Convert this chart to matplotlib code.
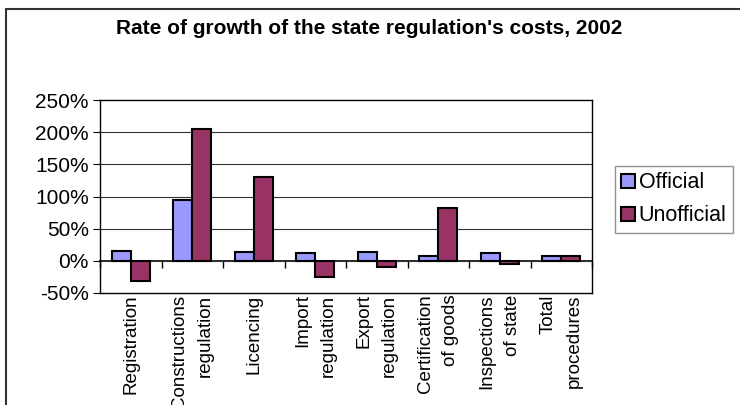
import numpy as np
import matplotlib
matplotlib.use("Agg")
import matplotlib.pyplot as plt
from matplotlib.patches import Rectangle
from matplotlib.ticker import FuncFormatter

plt.rcParams['font.family'] = ['Liberation Sans', 'DejaVu Sans']

categories = ["Registration", "Constructions\nregulation", "Licencing",
              "Import\nregulation", "Export\nregulation", "Certification\nof goods",
              "Inspections\nof state", "Total\nprocedures"]
official = [16, 95, 14, 12, 14, 7, 12, 7]
unofficial = [-31, 205, 130, -25, -9, 82, -5, 7]
yticks = [-50, 0, 50, 100, 150, 200, 250]

fig = plt.figure(figsize=(7.4, 4.05), dpi=100)
ax = fig.add_axes([100 / 740, 112 / 405, 492 / 740, 193 / 405])

x = np.arange(len(categories))
w = 0.31
ax.bar(x - w / 2, official, w, color='#9999FF', edgecolor='black', linewidth=1.5,
       label='Official', zorder=3)
ax.bar(x + w / 2, unofficial, w, color='#993366', edgecolor='black', linewidth=1.5,
       label='Unofficial', zorder=3)

ax.set_xlim(-0.5, len(categories) - 0.5)
ax.set_ylim(-50, 250)
ax.set_yticks(yticks)
ax.yaxis.set_major_formatter(FuncFormatter(lambda v, p: f"{v:.0f}%"))
ax.tick_params(axis='y', direction='out', length=5, labelsize=15, pad=3)
for v in yticks[1:-1]:
    ax.axhline(v, color='#333333', linewidth=0.8, zorder=1)

# category labels at bottom of plot area
ax.set_xticks(x)
ax.set_xticklabels(categories, rotation=90, fontsize=13.5, va='top',
                   ha='center', multialignment='right', linespacing=1.65)
ax.tick_params(axis='x', length=0, pad=1)

# category axis crossing at 0%
sec = ax.secondary_xaxis(50 / 300)
sec.set_xticks(np.arange(len(categories) + 1) - 0.5)
sec.set_xticklabels([])
sec.tick_params(axis='x', direction='out', length=5, width=1)
sec.spines['bottom'].set_linewidth(1.2)

for s in ax.spines.values():
    s.set_linewidth(1.0)
    s.set_color('black')

fig.text(369 / 740, 1 - 29 / 405, "Rate of growth of the state regulation's costs, 2002",
         fontsize=15, fontweight='bold', ha='center', va='center')

leg = fig.legend(loc='upper left', bbox_to_anchor=(615 / 740, 1 - 166 / 405),
                 fontsize=15.5, frameon=True, fancybox=False, handlelength=0.65,
                 handleheight=0.65, handletextpad=0.15, borderpad=0.3,
                 labelspacing=0.55, borderaxespad=0)
leg.get_frame().set_edgecolor('#777777')
leg.get_frame().set_linewidth(1.0)

fig.patches.append(Rectangle((6 / 740, -0.2), 2, 1.2 - 9 / 405, transform=fig.transFigure,
                             fill=False, edgecolor='#333333', linewidth=1.5,
                             clip_on=False))

fig.savefig("out.png", dpi=100)
